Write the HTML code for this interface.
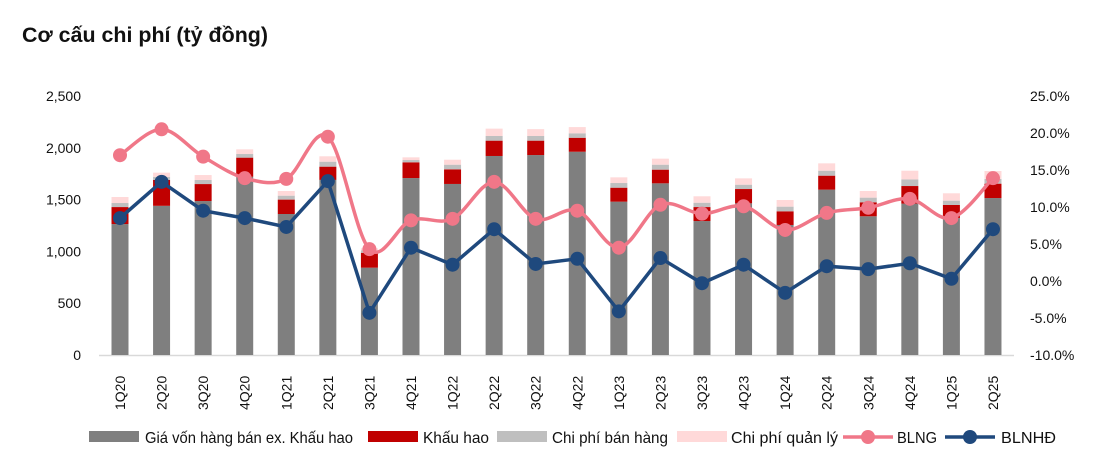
<!DOCTYPE html>
<html><head><meta charset="utf-8"><style>
html,body{margin:0;padding:0;background:#fff;}
svg{display:block;font-family:"Liberation Sans","Noto Sans CJK SC",sans-serif;}
</style></head><body>
<svg id="chart" width="1112" height="464" viewBox="0 0 1112 464">
<text x="22" y="42" font-size="21" font-weight="bold" fill="#111" textLength="246" lengthAdjust="spacingAndGlyphs">Cơ cấu chi phí (tỷ đồng)</text>
<g id="axes"></g><g id="bars"></g><g id="lines"></g>
<g id="legend"></g>
</svg>
<script>
const categories=["1Q20","2Q20","3Q20","4Q20","1Q21","2Q21","3Q21","4Q21","1Q22","2Q22","3Q22","4Q22","1Q23","2Q23","3Q23","4Q23","1Q24","2Q24","3Q24","4Q24","1Q25","2Q25"];
const cogs=[1264,1440,1486,1720,1361,1690,843,1708,1651,1921,1930,1962,1480,1657,1293,1464,1255,1596,1339,1461,1322,1515];
const depreciation=[164,250,164,185,139,128,144,152,141,148,139,135,135,132,135,138,132,135,135,170,126,139];
const sellingExp=[39,30,40,35,38,48,23,22,45,45,45,43,45,48,42,42,45,48,45,64,42,46];
const adminExp=[58,40,47,45,45,52,20,26,48,71,66,60,55,58,62,61,64,71,64,84,71,76];
const blng=[17.0,20.5,16.8,13.9,13.8,19.5,4.3,8.2,8.4,13.4,8.4,9.5,4.5,10.3,9.1,10.1,6.9,9.2,9.9,11.1,8.5,13.9];
const blnhd=[8.5,13.4,9.5,8.5,7.3,13.5,-4.3,4.5,2.2,7.0,2.3,3.0,-4.1,3.1,-0.3,2.2,-1.6,2.0,1.6,2.4,0.3,7.0];
const leftTicks=[0,500,1000,1500,2000,2500];
const rightTicks=[-10,-5,0,5,10,15,20,25];

const NS="http://www.w3.org/2000/svg";
const Y0=355,Y1=96,X0=120,DX=41.57,BW=17;
const yL=v=>Y0-(v/2500)*(Y0-Y1);
const yR=v=>Y0-((v+10)/35)*(Y0-Y1);
const xC=i=>X0+i*DX;
function mk(tag,attrs,parent){const e=document.createElementNS(NS,tag);for(const k in attrs)e.setAttribute(k,attrs[k]);parent.appendChild(e);return e;}
const axes=document.getElementById('axes'),bars=document.getElementById('bars'),lines=document.getElementById('lines'),legend=document.getElementById('legend');

leftTicks.forEach(t=>{const e=mk('text',{x:81,y:yL(t)+5,'text-anchor':'end','font-size':14,fill:'#111'},axes);e.textContent=t.toLocaleString('en-US');

});
rightTicks.forEach(t=>{const e=mk('text',{x:1030,y:yR(t)+5,'font-size':14,fill:'#111'},axes);e.textContent=t.toFixed(1)+'%';

});
const base=mk('line',{x1:99,x2:1014,y1:Y0+0.5,y2:Y0+0.5,stroke:'#d9d9d9','stroke-width':1.5},axes);


categories.forEach((c,i)=>{const e=mk('text',{transform:`translate(${xC(i)+5},${410}) rotate(-90)`,'font-size':14,fill:'#111'},axes);e.textContent=c;

});

const series=[[cogs,'#7f7f7f','bar-cogs'],[depreciation,'#c00000','bar-depreciation'],[sellingExp,'#bfbfbf','bar-selling-expense'],[adminExp,'#ffd9d9','bar-admin-expense']];
categories.forEach((c,i)=>{let acc=0;series.forEach(([arr,col,nm])=>{const v=arr[i];const r=mk('rect',{x:xC(i)-BW/2,y:yL(acc+v),width:BW,height:yL(acc)-yL(acc+v),fill:col},bars);


acc+=v;});});

function smooth(pts){let d=`M${pts[0][0]},${pts[0][1]}`;for(let i=0;i<pts.length-1;i++){const p0=pts[i-1]||pts[i],p1=pts[i],p2=pts[i+1],p3=pts[i+2]||p2;const t=6;
d+=` C${p1[0]+(p2[0]-p0[0])/t},${p1[1]+(p2[1]-p0[1])/t} ${p2[0]-(p3[0]-p1[0])/t},${p2[1]-(p3[1]-p1[1])/t} ${p2[0]},${p2[1]}`;}return d;}
const pg=blng.map((v,i)=>[xC(i),yR(v)]);
const pl=mk('path',{d:smooth(pg),fill:'none',stroke:'#f07788','stroke-width':3.5},lines);


const bg=blnhd.map((v,i)=>[xC(i),yR(v)]);
const bl=mk('polyline',{points:bg.map(p=>p.join(',')).join(' '),fill:'none',stroke:'#1f497d','stroke-width':3.5},lines);


pg.forEach(p=>{const c=mk('circle',{cx:p[0],cy:p[1],r:7,fill:'#f07788'},lines);

});
bg.forEach(p=>{const c=mk('circle',{cx:p[0],cy:p[1],r:7,fill:'#1f497d'},lines);

});

const legItems=[['rect','#7f7f7f',89,'Giá vốn hàng bán ex. Khấu hao',145,208,'legend-cogs'],['rect','#c00000',368,'Khấu hao',423,66,'legend-depreciation'],['rect','#bfbfbf',497,'Chi phí bán hàng',552,116,'legend-selling-expense'],['rect','#ffd9d9',677,'Chi phí quản lý',731,107,'legend-admin-expense'],['line','#f07788',843,'BLNG',897,40,'legend-blng'],['line','#1f497d',945,'BLNHĐ',1001,55,'legend-blnhd']];
const LY=437;
legItems.forEach(([t,col,x,label,tx,tl,nm])=>{const g=mk('g',{},legend);


if(t==='rect'){mk('rect',{x:x,y:LY-6,width:50,height:11,fill:col},g);}else{mk('line',{x1:x,x2:x+50,y1:LY,y2:LY,stroke:col,'stroke-width':3.5},g);mk('circle',{cx:x+25,cy:LY,r:7,fill:col},g);}
const e=mk('text',{x:tx,y:LY+6,'font-size':16,fill:'#111',textLength:tl,lengthAdjust:'spacingAndGlyphs'},g);e.textContent=label;});
</script>
</body></html>
